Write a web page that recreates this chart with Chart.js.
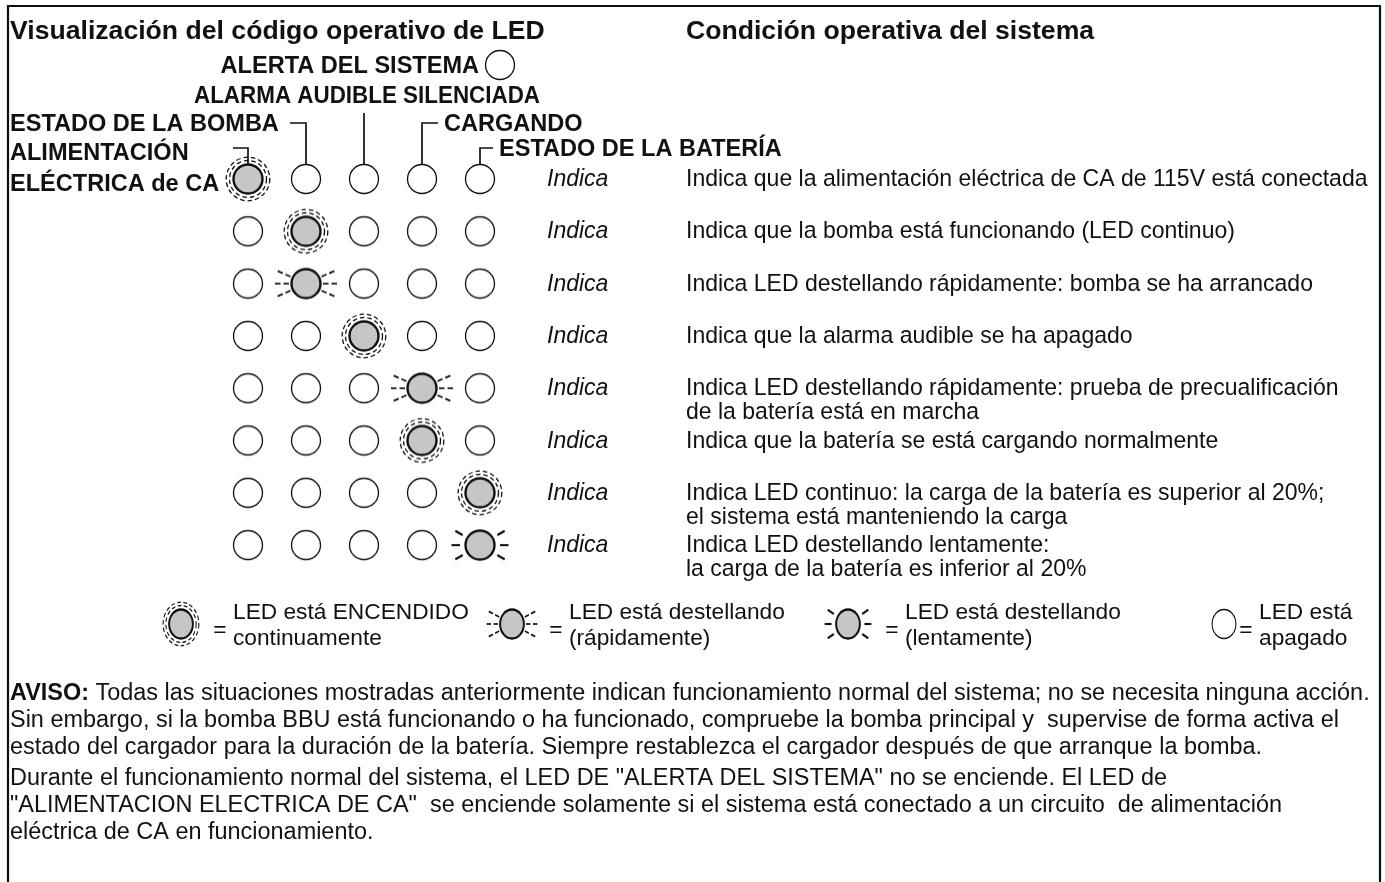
<!DOCTYPE html>
<html>
<head>
<meta charset="utf-8">
<script src="https://cdn.jsdelivr.net/npm/chart.js@4.4.1/dist/chart.umd.min.js"></script>
<style>
  html, body { margin: 0; padding: 0; background: #fff; }
  canvas { display: block; }
</style>
</head>
<body>
<canvas id="ledChart" width="1385" height="882"></canvas>
<script>
// LED columns (left to right) and the state of every LED in each row
const columnNames = ["ALIMENTACIÓN ELÉCTRICA de CA", "ESTADO DE LA BOMBA", "ALARMA AUDIBLE SILENCIADA", "CARGANDO", "ESTADO DE LA BATERÍA"];
const rowStates = [
  ["on", "off", "off", "off", "off"],
  ["off", "on", "off", "off", "off"],
  ["off", "fast", "off", "off", "off"],
  ["off", "off", "on", "off", "off"],
  ["off", "off", "off", "fast", "off"],
  ["off", "off", "off", "on", "off"],
  ["off", "off", "off", "off", "on"],
  ["off", "off", "off", "off", "slow"]
];
const rowDescriptions = [
  ["Indica que la alimentación eléctrica de CA de 115V está conectada"],
  ["Indica que la bomba está funcionando (LED continuo)"],
  ["Indica LED destellando rápidamente: bomba se ha arrancado"],
  ["Indica que la alarma audible se ha apagado"],
  ["Indica LED destellando rápidamente: prueba de precualificación", "de la batería está en marcha"],
  ["Indica que la batería se está cargando normalmente"],
  ["Indica LED continuo: la carga de la batería es superior al 20%;", "el sistema está manteniendo la carga"],
  ["Indica LED destellando lentamente:", "la carga de la batería es inferior al 20%"]
];
const legendStates = ["on", "fast", "slow", "off"];
const legendTexts = [
  ["LED está ENCENDIDO", "continuamente"],
  ["LED está destellando", "(rápidamente)"],
  ["LED está destellando", "(lentamente)"],
  ["LED está", "apagado"]
];
const noticeLines = [
  " Todas las situaciones mostradas anteriormente indican funcionamiento normal del sistema; no se necesita ninguna acción.",
  "Sin embargo, si la bomba BBU está funcionando o ha funcionado, compruebe la bomba principal y  supervise de forma activa el",
  "estado del cargador para la duración de la batería. Siempre restablezca el cargador después de que arranque la bomba."
];
const noteLines = [
  "Durante el funcionamiento normal del sistema, el LED DE \"ALERTA DEL SISTEMA\" no se enciende. El LED de",
  "\"ALIMENTACION ELECTRICA DE CA\"  se enciende solamente si el sistema está conectado a un circuito  de alimentación",
  "eléctrica de CA en funcionamiento."
];

// layout
const W = 1385, H = 882;
const COL_X0 = 248, COL_STEP = 58;
const ROW_Y0 = 179, ROW_STEP = 52.3;
const LED_R = 14.5;
const FONT = '"Liberation Sans", Arial, Helvetica, sans-serif';
const GRAY = "#c6c6c6";
const INK = "#111";

function makeIcon(state, sx) {
  const c = document.createElement("canvas");
  c.width = 80; c.height = 80;
  const g = c.getContext("2d");
  g.translate(40, 40);
  g.scale(sx, 1);
  g.strokeStyle = INK;
  if (state === "on") {
    g.lineWidth = 1.3;
    g.setLineDash([4.5, 3]);
    [18.5, 21.8].forEach(r => {
      g.beginPath(); g.arc(0, 0, r, 0, Math.PI * 2); g.stroke();
    });
    g.setLineDash([]);
  }
  if (state === "fast" || state === "slow") {
    const segs = state === "fast" ? [[17, 22.5], [25.5, 31]] : [[20, 28.5]];
    const spread = state === "fast" ? 24 : 30;
    g.lineWidth = state === "fast" ? 1.7 : 2.1;
    [-1, 1].forEach(side => {
      [-spread, 0, spread].forEach(a => {
        const dx = side * Math.cos(a * Math.PI / 180), dy = Math.sin(a * Math.PI / 180);
        segs.forEach(([r0, r1]) => {
          g.beginPath(); g.moveTo(dx * r0, dy * r0); g.lineTo(dx * r1, dy * r1); g.stroke();
        });
      });
    });
  }
  g.beginPath();
  g.arc(0, 0, LED_R, 0, Math.PI * 2);
  g.fillStyle = state === "off" ? "#fff" : GRAY;
  g.fill();
  g.lineWidth = state === "off" ? 1.3 : 2.4;
  g.stroke();
  return c;
}

const gridIcons = {}, legendIcons = {};
["on", "off", "fast", "slow"].forEach(s => {
  gridIcons[s] = makeIcon(s, 1);
  legendIcons[s] = makeIcon(s, 0.82);
});

function pointsFor(state) {
  const pts = [];
  rowStates.forEach((row, r) => row.forEach((s, c) => {
    if (s === state) pts.push({ x: c, y: r });
  }));
  return pts;
}

function fitPx(ctx, text, font, target) {
  ctx.font = font(100);
  return 100 * target / ctx.measureText(text).width;
}

const diagramText = {
  id: "diagramText",
  beforeDatasetsDraw(chart) {
    const ctx = chart.ctx;
    const xs = chart.scales.x, ys = chart.scales.y;
    const cx = columnNames.map((_, i) => xs.getPixelForValue(i));
    const top = ys.getPixelForValue(0) - LED_R;
    ctx.save();
    ctx.strokeStyle = INK;
    // frame
    ctx.lineWidth = 2.2;
    ctx.beginPath();
    ctx.moveTo(8, H); ctx.lineTo(8, 6); ctx.lineTo(1380, 6); ctx.lineTo(1380, H);
    ctx.stroke();
    // leader lines from the labels down to the first row
    ctx.lineWidth = 1.7;
    const leaders = [[233, 148], [290, 123], [null, 113], [438, 123], [493, 148]];
    leaders.forEach(([lx, ly], i) => {
      ctx.beginPath();
      if (lx !== null) { ctx.moveTo(lx, ly); ctx.lineTo(cx[i], ly); }
      else ctx.moveTo(cx[i], ly);
      ctx.lineTo(cx[i], top);
      ctx.stroke();
    });
    ctx.restore();
  },
  afterDatasetsDraw(chart) {
    const ctx = chart.ctx;
    const ys = chart.scales.y;
    const bold = s => `bold ${s}px ${FONT}`;
    const reg = s => `${s}px ${FONT}`;
    const ital = s => `italic ${s}px ${FONT}`;
    const titlePx = fitPx(ctx, "Visualización del código operativo de LED", bold, 535);
    const labelPx = fitPx(ctx, "ESTADO DE LA BOMBA", bold, 269);
    const bodyPx = fitPx(ctx, rowDescriptions[0][0], reg, 682);
    const legendPx = fitPx(ctx, legendTexts[0][0], reg, 236);
    ctx.save();
    ctx.fillStyle = INK;
    ctx.textBaseline = "alphabetic";
    const put = (text, x, y, font, align) => {
      ctx.font = font; ctx.textAlign = align || "left"; ctx.fillText(text, x, y);
    };
    // headings
    put("Visualización del código operativo de LED", 10, 39, bold(titlePx));
    put("Condición operativa del sistema", 686, 39, bold(titlePx));
    put("ALERTA DEL SISTEMA", 479, 73, bold(labelPx), "right");
    ctx.drawImage(gridIcons.off, 500 - 40, 65 - 40);
    // this label is set a little narrower in the original
    ctx.font = bold(labelPx);
    const alarmText = "ALARMA AUDIBLE SILENCIADA";
    const squeeze = 346 / ctx.measureText(alarmText).width;
    ctx.save();
    ctx.translate(540, 103);
    ctx.scale(squeeze, 1);
    put(alarmText, 0, 0, bold(labelPx), "right");
    ctx.restore();
    put("ESTADO DE LA BOMBA", 10, 131, bold(labelPx));
    put("CARGANDO", 444, 131, bold(labelPx));
    put("ALIMENTACIÓN", 10, 160, bold(labelPx));
    put("ESTADO DE LA BATERÍA", 499, 156, bold(labelPx));
    put("ELÉCTRICA de CA", 10, 191, bold(labelPx));
    // row descriptions
    rowDescriptions.forEach((lines, r) => {
      const y = ys.getPixelForValue(r) + 7;
      put("Indica", 547, y, ital(bodyPx));
      lines.forEach((t, k) => put(t, 686, y + k * 24, reg(bodyPx)));
    });
    // legend
    const legendX = [181, 512, 848, 1224];
    const eqX = [220, 556, 892, 1246];
    legendStates.forEach((s, i) => {
      ctx.drawImage(legendIcons[s], legendX[i] - 40, 624 - 40);
      put("=", eqX[i], 637, reg(legendPx), "center");
      put(legendTexts[i][0], eqX[i] + 13, 619, reg(legendPx));
      put(legendTexts[i][1], eqX[i] + 13, 645, reg(legendPx));
    });
    // notes
    ctx.font = bold(bodyPx);
    const avisoW = ctx.measureText("AVISO:").width;
    ctx.font = reg(bodyPx);
    const notePx = bodyPx * 1360 / (avisoW + ctx.measureText(noticeLines[0]).width);
    ctx.font = bold(notePx);
    const aw = ctx.measureText("AVISO:").width;
    put("AVISO:", 10, 700, bold(notePx));
    noticeLines.forEach((t, k) => put(t, k === 0 ? 10 + aw : 10, 700 + k * 27, reg(notePx)));
    noteLines.forEach((t, k) => put(t, 10, 785 + k * 27, reg(notePx)));
    ctx.restore();
  }
};

const chart = new Chart(document.getElementById("ledChart"), {
  type: "scatter",
  data: {
    datasets: ["off", "on", "fast", "slow"].map(s => ({
      label: s,
      data: pointsFor(s),
      pointStyle: gridIcons[s],
      pointRadius: LED_R,
      pointHoverRadius: LED_R
    }))
  },
  options: {
    responsive: false,
    devicePixelRatio: 1,
    animation: false,
    events: [],
    layout: { padding: 0, autoPadding: false },
    plugins: { legend: { display: false }, tooltip: { enabled: false } },
    scales: {
      x: { type: "linear", display: false, min: -COL_X0 / COL_STEP, max: (W - COL_X0) / COL_STEP },
      y: { type: "linear", display: false, reverse: true, min: -ROW_Y0 / ROW_STEP, max: (H - ROW_Y0) / ROW_STEP }
    }
  },
  plugins: [diagramText]
});
</script>
</body>
</html>
